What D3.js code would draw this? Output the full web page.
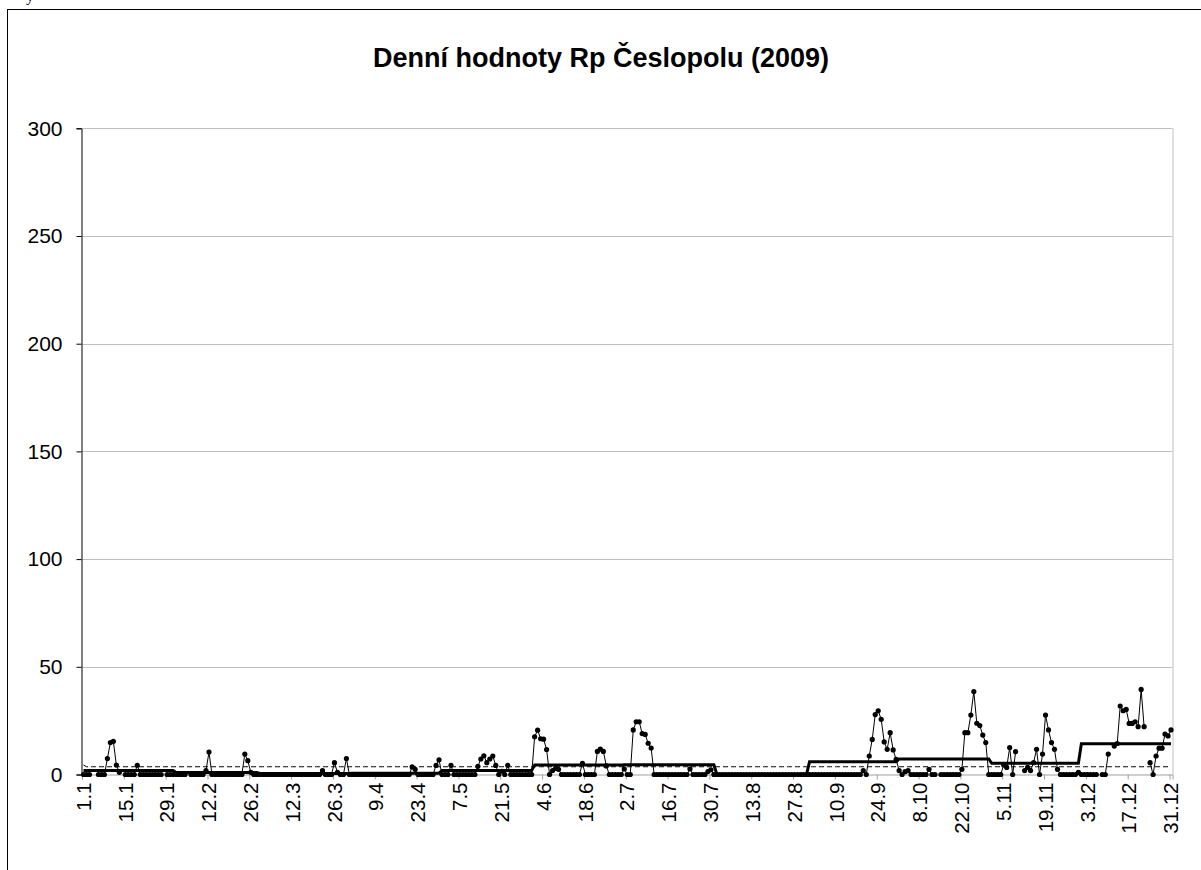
<!DOCTYPE html>
<html><head><meta charset="utf-8">
<script src="https://cdn.jsdelivr.net/npm/d3@7"></script>
<style>
body{margin:0;background:#fff;overflow:hidden}
svg{display:block}
text{font-family:Arial,"Liberation Sans",sans-serif;fill:#000}
</style>
</head><body>
<svg id="c" width="1201" height="870"></svg>
<script>
const title = "Denní hodnoty Rp Česlopolu (2009)";
const yTicks = [0, 50, 100, 150, 200, 250, 300];
const tickLabels = ["1.1","15.1","29.1","12.2","26.2","12.3","26.3","9.4","23.4","7.5","21.5","4.6","18.6","2.7","16.7","30.7","13.8","27.8","10.9","24.9","8.10","22.10","5.11","19.11","3.12","17.12","31.12"];
const tickDays = [1,15,29,43,57,71,85,99,113,127,141,155,169,183,197,211,225,239,253,267,281,295,309,323,337,351,365];
// monthly mean (thick line) and reference level (dashed line)
const monthlyMean = [1.8, 0.9, 0.5, 0.6, 1.9, 4.4, 4.5, 0, 5.9, 7.2, 5.2, 14.3];
const refFirst = 4.4;
const refLevel = 3.6;
// daily values, month by month (null = missing observation)
const jan = [0,0,0,null,null,0,0,0,7.4,14.8,15.4,4.4,1,null,0,0,0,0,4.3,0,0,0,0,0,0,0,0,null,0,0,0];
const feb = [0,0,0,0,null,0,0,0,0,0,1.8,10.4,0,0,0,0,0,0,0,0,0,0,0,9.5,6.4,1,0,0];
const mar = [0,0,0,0,0,0,0,0,0,0,0,0,0,0,0,0,0,0,0,0,0,1.8,0,0,0,5.5,1,0,0,7.4,0];
const apr = [0,0,0,0,0,0,0,0,0,0,0,0,0,0,0,0,0,0,0,0,3.5,2.4,0,0,0,0,0,0,4.2,6.8];
const may = [0,0,0,4.3,0,0,0,0,0,0,0,0,3.8,7.2,8.7,5.5,7.2,8.6,4.2,0,1.5,0,4.3,0,0,0,0,0,0,0,0];
const jun = [17.5,20.6,16.6,16.4,11.6,0,1.8,2.8,2.4,0,0,0,0,0,0,0,5.2,0,0,0,0,10.7,11.8,10.7,4,0,0,0,0,0];
const jul = [2.6,0,0,20.7,24.5,24.5,19,18.6,14.5,12.3,0,0,0,0,0,0,0,0,0,0,0,0,2.6,0,0,0,0,0,1.4,2.2,0];
const aug = [0,0,0,0,0,0,0,0,0,0,0,0,0,0,0,0,0,0,0,0,0,0,0,0,0,0,0,0,0,0,0];
const sep = [0,0,0,0,0,0,0,0,0,0,0,0,0,0,0,0,0,0,1.8,0,8.6,16.3,27.8,29.6,25.6,15.1,11.7,19.4,11.4,7];
const oct = [1.8,0,1.3,1.8,0,0,0,0,0,0,2.4,0,0,null,0,0,0,0,0,0,0,2.4,19.4,19.4,27.6,38.5,23.8,22.7,18.3,14.8,0];
const nov = [0,0,0,0,4.4,3.3,12.5,0,10.6,null,null,1.8,3.3,1.8,5.5,11.7,0,9.5,27.6,20.7,14.8,11.7,2.4,0,0,0,0,0,0,1];
const dec = [0,0,0,0,0,0,null,0,0,9.5,null,13.2,14.4,31.8,29.6,30.2,23.7,23.7,24.5,22.2,39.5,22.2,null,5.5,0,8.6,12.2,12.2,18.8,17.9,20.7];

const months = [jan,feb,mar,apr,may,jun,jul,aug,sep,oct,nov,dec];
const daily = [];
const meanSeries = [];
months.forEach((m, mi) => m.forEach(v => {
  daily.push({day: daily.length + 1, v: v});
  meanSeries.push({day: meanSeries.length + 1, v: monthlyMean[mi]});
}));
const nDays = daily.length;
const refSeries = daily.map(d => ({day: d.day, v: d.day === 1 ? refFirst : refLevel}));

const svg = d3.select("#c");
const X0 = 82, X1 = 1172.5, YT = 128.3, YB = 774.5;
const x = d3.scaleLinear().domain([0, nDays]).range([X0, X1]);
const y = d3.scaleLinear().domain([0, 300]).range([YB, YT]);
const cx = d => x(d - 0.5);

// outer chart border (extends beyond page)
svg.append("rect").attr("x", 7.5).attr("y", 9.5).attr("width", 1250).attr("height", 900)
  .attr("fill", "none").attr("stroke", "#000").attr("stroke-width", 1);
// fragment of text above the chart
svg.append("text").attr("x", 26).attr("y", 1)
  .style("font-family", "'Liberation Serif','Times New Roman',serif").attr("font-size", 16).text("y");

// title
svg.append("text").attr("x", 601).attr("y", 67).attr("text-anchor", "middle")
  .attr("font-size", 27).attr("font-weight", "bold").text(title);

// gridlines
svg.append("g").selectAll("line").data(yTicks.filter(t => t > 0)).join("line")
  .attr("x1", X0).attr("x2", X1).attr("y1", d => Math.round(y(d)) + 0.5).attr("y2", d => Math.round(y(d)) + 0.5)
  .attr("stroke", "#c0c0c0").attr("stroke-width", 1);
// plot right border
svg.append("line").attr("x1", X1 + 0.5).attr("x2", X1 + 0.5).attr("y1", YT).attr("y2", YB)
  .attr("stroke", "#c0c0c0");

// y axis
const yAxis = d3.axisLeft(y).tickValues(yTicks).tickSize(5).tickPadding(14).tickFormat(d3.format("d"));
const gy = svg.append("g").attr("transform", `translate(${X0 - 0.5},0)`).call(yAxis);
gy.select(".domain").attr("stroke", "#000");
gy.selectAll(".tick line").attr("stroke", "#000");
gy.selectAll("text").attr("font-size", 21).style("font-family", "Arial, 'Liberation Sans', sans-serif");

// x axis (category boundaries every 14 days)
const boundaryTicks = d3.range(0, nDays, 14);
const xAxis = d3.axisBottom(x).tickValues(boundaryTicks).tickSize(5).tickFormat("");
const gx = svg.append("g").attr("transform", `translate(0,${YB})`).call(xAxis);
gx.select(".domain").attr("stroke", "#a0a0a0");
gx.selectAll(".tick line").attr("stroke", "#a0a0a0");
// x labels
svg.append("g").selectAll("text").data(tickDays).join("text")
  .attr("transform", (d) => `translate(${cx(d)},${YB + 8}) rotate(-90)`)
  .attr("text-anchor", "end").attr("dy", "0.35em").attr("font-size", 20.5)
  .text((d, i) => tickLabels[i]);

// reference dashed line
svg.append("path").datum(refSeries)
  .attr("d", d3.line().x(d => cx(d.day)).y(d => y(d.v)))
  .attr("fill", "none").attr("stroke", "#000").attr("stroke-width", 1).attr("stroke-dasharray", "5,3");

// monthly mean thick line
svg.append("path").datum(meanSeries)
  .attr("d", d3.line().x(d => cx(d.day)).y(d => y(d.v)))
  .attr("fill", "none").attr("stroke", "#000").attr("stroke-width", 3);

// daily line
svg.append("path").datum(daily)
  .attr("d", d3.line().defined(d => d.v !== null).x(d => cx(d.day)).y(d => y(d.v)))
  .attr("fill", "none").attr("stroke", "#000").attr("stroke-width", 1);
svg.append("g").selectAll("circle").data(daily.filter(d => d.v !== null)).join("circle")
  .attr("cx", d => cx(d.day)).attr("cy", d => y(d.v)).attr("r", 2.6).attr("fill", "#000");
</script>
</body></html>
